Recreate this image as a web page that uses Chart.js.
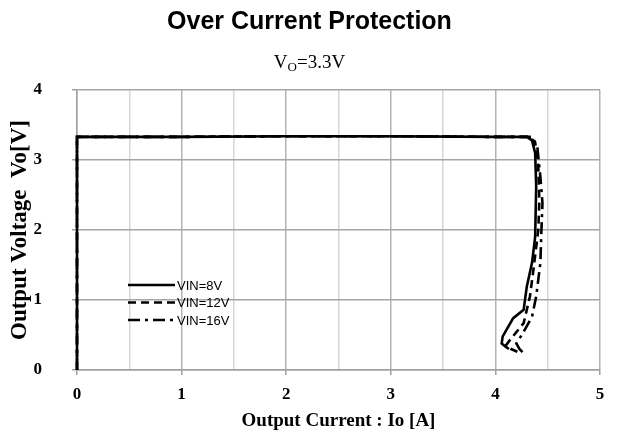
<!DOCTYPE html>
<html>
<head>
<meta charset="utf-8">
<script src="https://cdn.jsdelivr.net/npm/chart.js@4.4.1/dist/chart.umd.min.js"></script>
<style>
  html, body { margin: 0; padding: 0; background: #fff; }
  #wrap { position: relative; width: 619px; height: 444px; }
  #title { position: absolute; left: 0; top: 6px; width: 619px; text-align: center;
           font: bold 25px "Liberation Sans", Arial, sans-serif; color: #000; }
  #subtitle { position: absolute; left: 0; top: 51px; width: 619px; text-align: center;
              font: 19px "Liberation Serif", "Times New Roman", serif; color: #000; }
  #subtitle sub { font-size: 13px; vertical-align: -3px; }
  canvas { position: absolute; left: 0; top: 0; }
</style>
</head>
<body>
<div id="wrap">
  <canvas id="myChart" width="619" height="444"></canvas>
  <div id="title">Over Current Protection</div>
  <div id="subtitle">V<sub>O</sub>=3.3V</div>
</div>
<script>
// data: output current [A] and output voltage [V]
const seriesNames = ['VIN=8V', 'VIN=12V', 'VIN=16V']

const current8 = [0, 0, 1, 2, 3, 4, 4.3, 4.35, 4.38, 4.39, 4.38, 4.35, 4.30, 4.27, 4.17, 4.07, 4.06, 4.10, 4.13]
const voltage8 = [0, 3.33, 3.33, 3.34, 3.34, 3.33, 3.33, 3.28, 3.10, 2.62, 1.90, 1.53, 1.19, 0.86, 0.74, 0.48, 0.38, 0.33, 0.30]

const current12 = [0, 0, 1, 2, 3, 4, 4.33, 4.38, 4.41, 4.42, 4.41, 4.36, 4.33, 4.27, 4.14, 4.10, 4.15, 4.21]
const voltage12 = [0, 3.33, 3.33, 3.34, 3.34, 3.33, 3.33, 3.25, 2.90, 2.40, 2.00, 1.39, 1.05, 0.67, 0.43, 0.35, 0.30, 0.26]

const current16 = [0, 0, 1, 2, 3, 4, 4.35, 4.40, 4.43, 4.45, 4.44, 4.43, 4.39, 4.35, 4.26, 4.20, 4.23, 4.27]
const voltage16 = [0, 3.33, 3.33, 3.34, 3.34, 3.33, 3.33, 3.20, 2.76, 2.38, 2.00, 1.53, 1.05, 0.76, 0.52, 0.38, 0.30, 0.24]

const xTicks = [0, 1, 2, 3, 4, 5]
const yTicks = [0, 1, 2, 3, 4]

const dashes = [[], [8, 5], [12, 5, 3, 5]]

function toPoints(xs, ys) {
    return xs.map((x, i) => ({ x: x, y: ys[i] }))
}

const allSeries = [
    toPoints(current8, voltage8),
    toPoints(current12, voltage12),
    toPoints(current16, voltage16)
]

// legend drawn inside the plot, like the original
const innerLegend = {
    id: 'innerLegend',
    afterDatasetsDraw(chart) {
        const ctx = chart.ctx
        const x0 = chart.chartArea.left + 51
        const y0 = chart.chartArea.top + 195
        ctx.save()
        ctx.font = '13px "Liberation Sans", Arial, sans-serif'
        ctx.textBaseline = 'middle'
        chart.data.datasets.forEach((ds, i) => {
            const y = y0 + i * 17.5
            ctx.strokeStyle = '#000'
            ctx.lineWidth = 2.4
            ctx.setLineDash(ds.borderDash)
            ctx.beginPath()
            ctx.moveTo(x0, y)
            ctx.lineTo(x0 + 47, y)
            ctx.stroke()
            ctx.setLineDash([])
            ctx.fillStyle = '#000'
            ctx.fillText(ds.label, x0 + 49, y + 1)
        })
        ctx.restore()
    }
}

const config = {
    type: 'scatter',
    data: {
        datasets: allSeries.map((pts, i) => ({
            label: seriesNames[i],
            data: pts,
            showLine: true,
            borderColor: '#000',
            backgroundColor: '#000',
            borderWidth: 2.6,
            borderDash: dashes[i],
            pointRadius: 0,
            tension: 0,
            clip: 6
        }))
    },
    options: {
        responsive: false,
        animation: false,
        layout: { padding: { top: 90, right: 19, left: 0, bottom: 12 } },
        plugins: {
            legend: { display: false },
            tooltip: { enabled: false }
        },
        scales: {
            x: {
                type: 'linear',
                min: 0,
                max: 5,
                afterFit: s => { s.height = 62 },
                ticks: {
                    stepSize: 0.5,
                    autoSkip: false,
                    maxRotation: 0,
                    padding: 9,
                    color: '#000',
                    font: { family: '"Liberation Serif", "Times New Roman", serif', size: 17, weight: 'bold' },
                    callback: v => xTicks.includes(v) ? String(v) : ''
                },
                grid: {
                    color: c => Number.isInteger(c.tick.value) ? '#b3b3b3' : '#d6d6d6',
                    tickColor: c => Number.isInteger(c.tick.value) ? '#a0a0a0' : 'rgba(0,0,0,0)',
                    tickLength: 5,
                    lineWidth: 1.5
                },
                border: { color: '#a0a0a0', width: 1.5 },
                title: {
                    display: true,
                    text: 'Output Current : Io [A]',
                    color: '#000',
                    font: { family: '"Liberation Serif", "Times New Roman", serif', size: 19, weight: 'bold' },
                    padding: { top: 0, bottom: 0 }
                }
            },
            y: {
                type: 'linear',
                min: 0,
                max: 4,
                afterFit: s => { s.width = 77 },
                ticks: {
                    stepSize: 1,
                    padding: 30,
                    color: '#000',
                    font: { family: '"Liberation Serif", "Times New Roman", serif', size: 17, weight: 'bold' },
                    callback: v => yTicks.includes(v) ? String(v) : ''
                },
                grid: {
                    color: '#a6a6a6',
                    tickColor: '#a0a0a0',
                    tickLength: 5,
                    lineWidth: 1.5
                },
                border: { color: '#a0a0a0', width: 1.5 },
                title: {
                    display: true,
                    text: 'Output Voltage  Vo[V]',
                    color: '#000',
                    font: { family: '"Liberation Serif", "Times New Roman", serif', size: 23, weight: 'bold' },
                    padding: { top: 6, bottom: 0 }
                }
            }
        }
    },
    plugins: [innerLegend]
}

const myChart = new Chart(document.querySelector('#myChart'), config)
</script>
</body>
</html>
